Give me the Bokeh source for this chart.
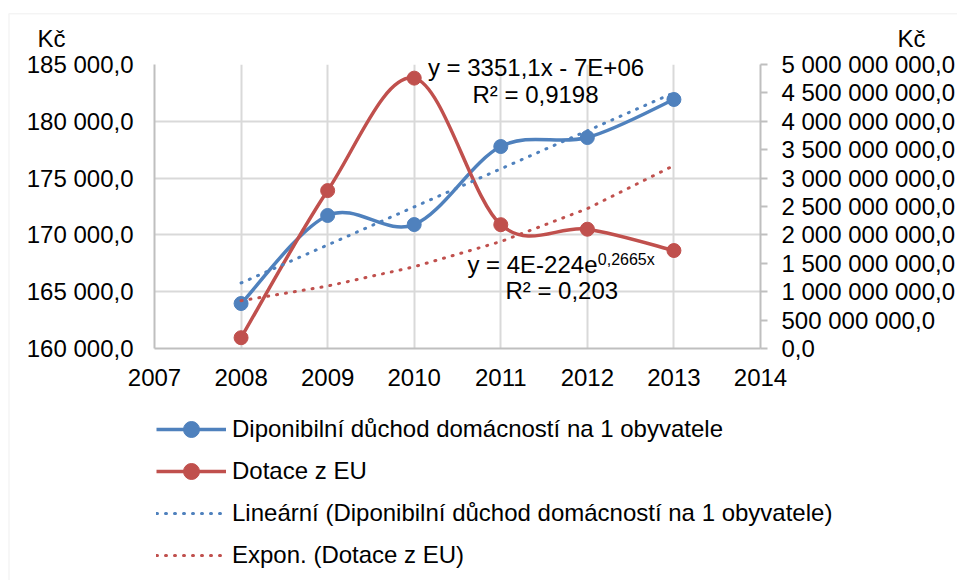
import numpy as np
from bokeh.plotting import figure
from bokeh.models import (LinearAxis, Range1d, FixedTicker, Label, Legend, LegendItem,
                          ColumnDataSource, BoxAnnotation)
from bokeh.embed import file_html
from bokeh.resources import INLINE

# ---------------- data ----------------
years = [2008, 2009, 2010, 2011, 2012, 2013]
income = [163960, 171710, 170910, 177780, 178570, 181920]          # Kč per inhabitant (left axis)
eu_subsidy = [1.9e8, 2.78e9, 4.76e9, 2.18e9, 2.10e9, 1.725e9]      # Kč (right axis)

x_ticks = [2007, 2008, 2009, 2010, 2011, 2012, 2013, 2014]
left_ticks = [160000, 165000, 170000, 175000, 180000, 185000]
left_labels = ["160 000,0", "165 000,0", "170 000,0", "175 000,0", "180 000,0", "185 000,0"]
right_ticks = [0, 5e8, 1e9, 1.5e9, 2e9, 2.5e9, 3e9, 3.5e9, 4e9, 4.5e9, 5e9]
right_labels = ["0,0", "500 000 000,0", "1 000 000 000,0", "1 500 000 000,0",
                "2 000 000 000,0", "2 500 000 000,0", "3 000 000 000,0",
                "3 500 000 000,0", "4 000 000 000,0", "4 500 000 000,0",
                "5 000 000 000,0"]
unit_label = "Kč"

series_names = ["Diponibilní důchod domácností na 1 obyvatele", "Dotace z EU",
                "Lineární (Diponibilní důchod domácností na 1 obyvatele)",
                "Expon. (Dotace z EU)"]
eq_lin = ["y = 3351,1x - 7E+06", "R² = 0,9198"]
eq_exp = ["y = 4E-224e", "0,2665x", "R² = 0,203"]

BLUE = "#4F81BD"
RED = "#C0504D"
GRID = "#D9D9D9"
AXIS = "#BFBFBF"
FONT = "Liberation Sans"
FS = "24px"

W, H = 957, 580
F_LEFT, F_RIGHT, F_TOP, F_BOTTOM = 154, 760, 64, 348   # plot-area edges in pixels


def smooth_segments(xs, ys):
    """Catmull-Rom style Bezier control points (Excel-like smoothed line)."""
    xs = np.asarray(xs, float)
    ys = np.asarray(ys, float)
    n = len(xs)
    d = dict(x0=[], y0=[], x1=[], y1=[], cx0=[], cy0=[], cx1=[], cy1=[])
    for i in range(n - 1):
        p_ = i - 1 if i > 0 else i
        q_ = i + 2 if i + 2 < n else i + 1
        d["x0"].append(xs[i]); d["y0"].append(ys[i])
        d["x1"].append(xs[i + 1]); d["y1"].append(ys[i + 1])
        d["cx0"].append(xs[i] + (xs[i + 1] - xs[p_]) / 6)
        d["cy0"].append(ys[i] + (ys[i + 1] - ys[p_]) / 6)
        d["cx1"].append(xs[i + 1] - (xs[q_] - xs[i]) / 6)
        d["cy1"].append(ys[i + 1] - (ys[q_] - ys[i]) / 6)
    return ColumnDataSource(d)


# trendlines fitted from the data (as the spreadsheet does)
xa = np.array(years, float)
lin_coef = np.polyfit(xa, np.array(income, float), 1)
lin_fit = list(np.polyval(lin_coef, xa))
exp_coef = np.polyfit(xa, np.log(np.array(eu_subsidy, float)), 1)
exp_fit = list(np.exp(np.polyval(exp_coef, xa)))

# ---------- main chart ----------
p = figure(width=W, height=H, output_backend="svg", toolbar_location=None,
           x_range=Range1d(x_ticks[0], x_ticks[-1]),
           y_range=Range1d(left_ticks[0], left_ticks[-1]),
           min_border_left=F_LEFT, min_border_right=W - F_RIGHT, min_border_top=F_TOP,
           min_border_bottom=H - F_BOTTOM,
           background_fill_color="white", border_fill_color="white",
           outline_line_color=None)
p.extra_y_ranges = {"right": Range1d(right_ticks[0], right_ticks[-1])}

p.xaxis.ticker = FixedTicker(ticks=x_ticks)
p.yaxis.ticker = FixedTicker(ticks=left_ticks)
p.yaxis.major_label_overrides = {t: l for t, l in zip(left_ticks, left_labels)}
for ax in (p.xaxis[0], p.yaxis[0]):
    ax.axis_line_color = AXIS
    ax.axis_line_width = 2
    ax.major_tick_line_color = None
    ax.major_tick_out = 0
    ax.major_tick_in = 0
    ax.minor_tick_line_color = None
    ax.major_label_text_font = FONT
    ax.major_label_text_font_size = FS
    ax.major_label_text_color = "black"
p.yaxis.major_label_standoff = 21
p.xaxis.major_label_standoff = 20

rax = LinearAxis(y_range_name="right", ticker=FixedTicker(ticks=right_ticks))
rax.major_label_overrides = {t: l for t, l in zip(right_ticks, right_labels)}
rax.axis_line_color = AXIS
rax.axis_line_width = 2
rax.major_tick_line_color = AXIS
rax.major_tick_line_width = 2
rax.major_tick_out = 7
rax.major_tick_in = 0
rax.minor_tick_line_color = None
rax.major_label_text_font = FONT
rax.major_label_text_font_size = FS
rax.major_label_text_color = "black"
rax.major_label_standoff = 14
p.add_layout(rax, "right")

p.xgrid.ticker = FixedTicker(ticks=x_ticks)
p.ygrid.ticker = FixedTicker(ticks=left_ticks)
p.grid.grid_line_color = GRID
p.grid.grid_line_width = 2

p.bezier(x0="x0", y0="y0", x1="x1", y1="y1", cx0="cx0", cy0="cy0", cx1="cx1", cy1="cy1",
         source=smooth_segments(years, income), line_color=BLUE, line_width=3.5)
p.scatter(years, income, size=14, marker="circle", fill_color=BLUE, line_color=BLUE)
p.bezier(x0="x0", y0="y0", x1="x1", y1="y1", cx0="cx0", cy0="cy0", cx1="cx1", cy1="cy1",
         source=smooth_segments(years, eu_subsidy), line_color=RED, line_width=3.5,
         y_range_name="right")
p.scatter(years, eu_subsidy, size=14, marker="circle", fill_color=RED, line_color=RED,
          y_range_name="right")
p.line(years, lin_fit, line_color=BLUE, line_width=3, line_dash="1 8", line_cap="round")
p.line(years, exp_fit, line_color=RED, line_width=3, line_dash="1 8", line_cap="round",
       y_range_name="right")

# ---------- transparent overlay (pixel coordinates) for texts outside the plot area ----------
q = figure(width=W, height=H, output_backend="svg", toolbar_location=None,
           x_range=Range1d(0, W), y_range=Range1d(0, H),
           x_axis_location=None, y_axis_location=None, min_border=0,
           outline_line_color=None, background_fill_alpha=0, border_fill_alpha=0,
           styles={"position": "absolute", "left": "0px", "top": "0px"})
q.grid.visible = False

# chart-area border (top and left edges visible)
q.add_layout(BoxAnnotation(left=8.5, right=W + 50, bottom=-50, top=H - 13.3,
                           fill_alpha=0, line_color=GRID, line_width=1.5))


def lab(x, y_from_top, text, align="center", size=FS):
    q.add_layout(Label(x=x, y=H - y_from_top, text=text, text_align=align,
                       text_baseline="middle", text_font=FONT, text_font_size=size,
                       text_color="black"))


lab(51, 37.7, unit_label)
lab(911, 37.7, unit_label)
lab(535.5, 67.2, eq_lin[0])
lab(535, 93.8, eq_lin[1])
lab(597, 263.7, eq_exp[0], align="right")
lab(597.3, 259.3, eq_exp[1], align="left", size="16px")
lab(561.3, 289.7, eq_exp[2])

# legend proxies (hidden renderers carrying the series styles)
k_b_line = q.line(x=years, y=income, line_color=BLUE, line_width=3.5, visible=False)
k_b_pt = q.scatter(x=years, y=income, marker="circle", fill_color=BLUE, line_color=BLUE,
                   visible=False)
k_r_line = q.line(x=years, y=eu_subsidy, line_color=RED, line_width=3.5, visible=False)
k_r_pt = q.scatter(x=years, y=eu_subsidy, marker="circle", fill_color=RED, line_color=RED,
                   visible=False)
k_b_tr = q.line(x=years, y=lin_fit, line_color=BLUE, line_width=3, line_dash="1 8",
                line_cap="round", visible=False)
k_r_tr = q.line(x=years, y=exp_fit, line_color=RED, line_width=3, line_dash="1 8",
                line_cap="round", visible=False)
legend = Legend(items=[
    LegendItem(label=series_names[0], renderers=[k_b_line, k_b_pt]),
    LegendItem(label=series_names[1], renderers=[k_r_line, k_r_pt]),
    LegendItem(label=series_names[2], renderers=[k_b_tr]),
    LegendItem(label=series_names[3], renderers=[k_r_tr]),
], location=(156, 4.3), orientation="vertical",
    label_text_font=FONT, label_text_font_size=FS, label_text_color="black",
    glyph_width=70, glyph_height=40, label_height=42, label_standoff=6,
    spacing=0, padding=0, margin=0, border_line_color=None,
    background_fill_alpha=0)
q.add_layout(legend, "center")

open("out.html", "w").write(file_html([p, q], INLINE))
